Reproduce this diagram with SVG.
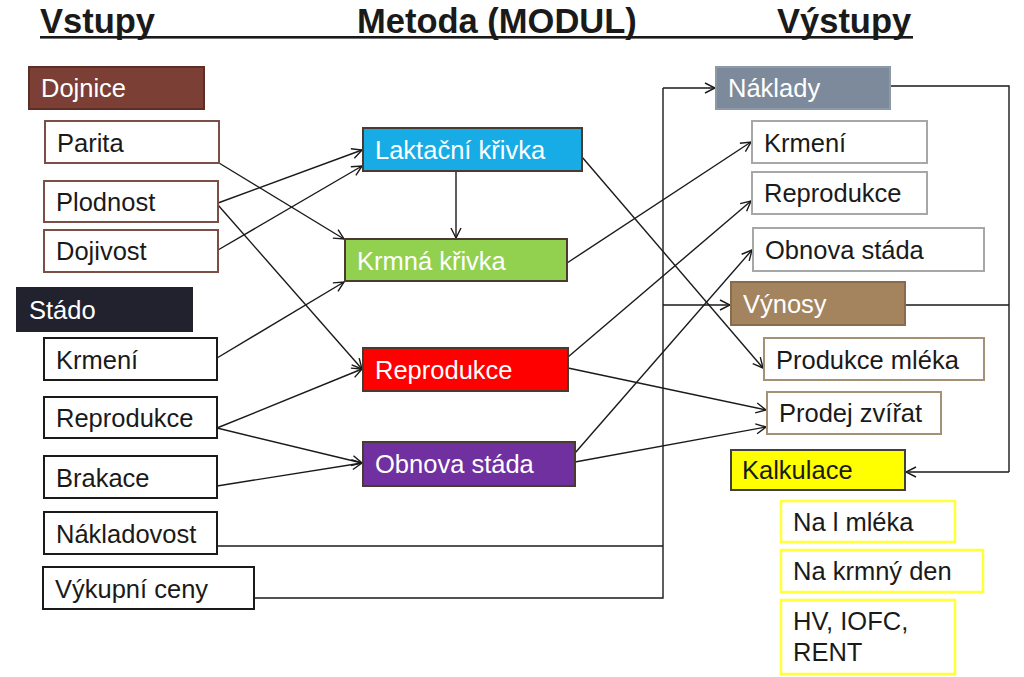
<svg xmlns="http://www.w3.org/2000/svg" width="1024" height="677" viewBox="0 0 1024 677">
<style>
text{font-family:"Liberation Sans",Arial,sans-serif;font-size:25.5px;}
.t{font-weight:bold;font-size:34.5px;fill:#1a1a1a;}
.w{fill:#ffffff;}
.k{fill:#1a1a1a;}
.c{fill:none;stroke:#1a1a1a;stroke-width:1.4;}
.a{marker-end:url(#ar);}
</style>
<defs>
<marker id="ar" viewBox="0 0 12 12" refX="11" refY="6" markerWidth="12" markerHeight="12" markerUnits="userSpaceOnUse" orient="auto">
<path d="M1,1 L11,6 L1,11" fill="none" stroke="#1a1a1a" stroke-width="1.4"/>
</marker>
</defs>
<rect width="1024" height="677" fill="#ffffff"/>
<g id="titles">
<text class="t" x="40" y="33">Vstupy</text>
<text class="t" x="357" y="33">Metoda (MODUL)</text>
<text class="t" x="777" y="33">Výstupy</text>
<rect x="40" y="36" width="873" height="2.6" fill="#1a1a1a"/>
</g>
<g id="connectors">
<line class="c a" x1="219" y1="163" x2="344" y2="239"/>
<line class="c a" x1="218" y1="203" x2="362" y2="150"/>
<line class="c a" x1="218" y1="250" x2="362" y2="166"/>
<line class="c a" x1="218" y1="205" x2="362" y2="369"/>
<line class="c a" x1="217" y1="358" x2="344" y2="282"/>
<line class="c a" x1="217" y1="428" x2="362" y2="369"/>
<line class="c a" x1="217" y1="428" x2="362" y2="463"/>
<line class="c a" x1="217" y1="486" x2="362" y2="463"/>
<line class="c a" x1="456" y1="171" x2="456" y2="238"/>
<line class="c a" x1="582" y1="157" x2="763" y2="368"/>
<line class="c a" x1="567" y1="263" x2="751" y2="142"/>
<line class="c a" x1="568" y1="357" x2="751" y2="201"/>
<line class="c a" x1="568" y1="368" x2="766" y2="410"/>
<line class="c a" x1="575" y1="453" x2="752" y2="250"/>
<line class="c a" x1="575" y1="462" x2="766" y2="427"/>
<polyline class="c" points="217,546 663,546"/>
<polyline class="c" points="254,598 663,598 663,88"/>
<line class="c a" x1="663" y1="88" x2="715" y2="88"/>
<line class="c a" x1="663" y1="305" x2="730" y2="305"/>
<polyline class="c" points="890,86 1009,86 1009,472"/>
<line class="c" x1="905" y1="305" x2="1009" y2="305"/>
<line class="c a" x1="1009" y1="472" x2="906" y2="472"/>
</g>
<g id="n-dojnice"><rect x="29" y="67" width="175" height="42" fill="#7b3f35" stroke="#5e2e26" stroke-width="2"/><text class="w" x="41" y="97">Dojnice</text></g>
<g id="n-parita"><rect x="45" y="121" width="174" height="42" fill="#fff" stroke="#7b4f45" stroke-width="2"/><text class="k" x="57" y="152">Parita</text></g>
<g id="n-plodnost"><rect x="44" y="181" width="174" height="41" fill="#fff" stroke="#7b4f45" stroke-width="2"/><text class="k" x="56" y="211">Plodnost</text></g>
<g id="n-dojivost"><rect x="44" y="230" width="174" height="42" fill="#fff" stroke="#7b4f45" stroke-width="2"/><text class="k" x="56" y="260">Dojivost</text></g>
<g id="n-stado"><rect x="17" y="288" width="175" height="43" fill="#22212e" stroke="#22212e" stroke-width="2"/><text class="w" x="29" y="319">Stádo</text></g>
<g id="n-krmeni-in"><rect x="44" y="338" width="173" height="42" fill="#fff" stroke="#1a1a1a" stroke-width="2"/><text class="k" x="56" y="369">Krmení</text></g>
<g id="n-reprodukce-in"><rect x="44" y="397" width="173" height="41" fill="#fff" stroke="#1a1a1a" stroke-width="2"/><text class="k" x="56" y="427">Reprodukce</text></g>
<g id="n-brakace"><rect x="44" y="456" width="173" height="42" fill="#fff" stroke="#1a1a1a" stroke-width="2"/><text class="k" x="56" y="487">Brakace</text></g>
<g id="n-nakladovost"><rect x="44" y="512" width="173" height="42" fill="#fff" stroke="#1a1a1a" stroke-width="2"/><text class="k" x="56" y="543">Nákladovost</text></g>
<g id="n-vykupni"><rect x="43" y="567" width="211" height="42" fill="#fff" stroke="#1a1a1a" stroke-width="2"/><text class="k" x="55" y="598">Výkupní ceny</text></g>
<g id="n-laktacni"><rect x="363" y="128" width="219" height="43" fill="#17ace6" stroke="#4a3a30" stroke-width="2"/><text class="w" x="375" y="159">Laktační křivka</text></g>
<g id="n-krmna"><rect x="345" y="239" width="222" height="42" fill="#92d050" stroke="#4a3a30" stroke-width="2"/><text class="w" x="357" y="270">Krmná křivka</text></g>
<g id="n-reprodukce-m"><rect x="363" y="348" width="205" height="43" fill="#ff0000" stroke="#4a3a30" stroke-width="2"/><text class="w" x="375" y="379">Reprodukce</text></g>
<g id="n-obnova-m"><rect x="363" y="442" width="212" height="44" fill="#7030a0" stroke="#4a3a30" stroke-width="2"/><text class="w" x="375" y="473">Obnova stáda</text></g>
<g id="n-naklady"><rect x="716" y="67" width="174" height="42" fill="#7d8a9b" stroke="#8e99a8" stroke-width="2"/><text class="w" x="728" y="97">Náklady</text></g>
<g id="n-krmeni-out"><rect x="752" y="121" width="175" height="42" fill="#fff" stroke="#a6a8a8" stroke-width="2"/><text class="k" x="764" y="152">Krmení</text></g>
<g id="n-reprodukce-out"><rect x="752" y="172" width="175" height="42" fill="#fff" stroke="#a6a8a8" stroke-width="2"/><text class="k" x="764" y="202">Reprodukce</text></g>
<g id="n-obnova-out"><rect x="753" y="228" width="231" height="43" fill="#fff" stroke="#a6a8a8" stroke-width="2"/><text class="k" x="765" y="259">Obnova stáda</text></g>
<g id="n-vynosy"><rect x="731" y="282" width="174" height="43" fill="#a3845f" stroke="#8a6c4c" stroke-width="2"/><text class="w" x="743" y="313">Výnosy</text></g>
<g id="n-produkce"><rect x="764" y="338" width="220" height="42" fill="#fff" stroke="#a59276" stroke-width="2"/><text class="k" x="776" y="369">Produkce mléka</text></g>
<g id="n-prodej"><rect x="767" y="392" width="174" height="42" fill="#fff" stroke="#a59276" stroke-width="2"/><text class="k" x="779" y="422">Prodej zvířat</text></g>
<g id="n-kalkulace"><rect x="731" y="450" width="174" height="40" fill="#ffff00" stroke="#404040" stroke-width="2"/><text class="k" x="742" y="479">Kalkulace</text></g>
<g id="n-na-l"><rect x="781" y="501" width="174" height="41" fill="#fff" stroke="#ffff3a" stroke-width="2.5"/><text class="k" x="793" y="531">Na l mléka</text></g>
<g id="n-na-krmny"><rect x="781" y="550" width="202" height="42" fill="#fff" stroke="#ffff3a" stroke-width="2.5"/><text class="k" x="793" y="580">Na krmný den</text></g>
<g id="n-hv"><rect x="781" y="600" width="174" height="74" fill="#fff" stroke="#ffff3a" stroke-width="2.5"/><text class="k" x="793" y="630">HV, IOFC,</text><text class="k" x="793" y="661">RENT</text></g>
</svg>
